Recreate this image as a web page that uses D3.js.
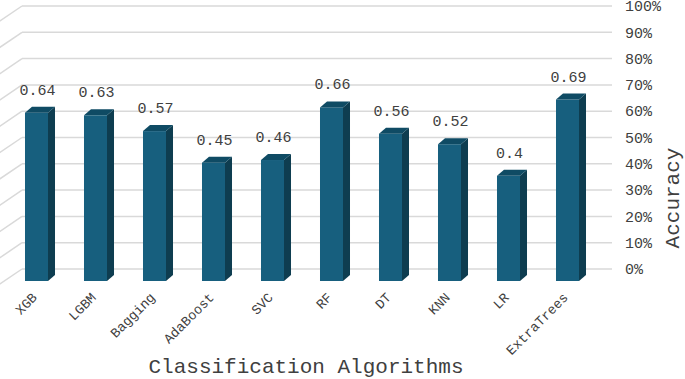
<!DOCTYPE html>
<html>
<head>
<meta charset="utf-8">
<script src="https://cdn.jsdelivr.net/npm/d3@7"></script>
<style>
  body { margin: 0; background: #fff; }
  text { font-family: "Liberation Mono", "Courier New", monospace; fill: #404040; }
</style>
</head>
<body>
<div id="chart"></div>
<script>
const algorithms = ["XGB", "LGBM", "Bagging", "AdaBoost", "SVC", "RF", "DT", "KNN", "LR", "ExtraTrees"];
const accuracy = [0.64, 0.63, 0.57, 0.45, 0.46, 0.66, 0.56, 0.52, 0.4, 0.69];
const tickValues = [0, 0.1, 0.2, 0.3, 0.4, 0.5, 0.6, 0.7, 0.8, 0.9, 1];

const width = 685, height = 379;
const wallLeft = 22, wallRight = 612;
const frontDy = 12;          // floor depth: front of bars sits lower than back wall
const barDx = 7, barDy = 6;  // bar depth

const svg = d3.select("#chart").append("svg")
    .attr("width", width)
    .attr("height", height);

const x = d3.scaleBand()
    .domain(algorithms)
    .range([7, 597])
    .paddingInner(0.61)
    .paddingOuter(0.305);

const y = d3.scaleLinear()
    .domain([0, 1])
    .range([269, 6]);

// back wall gridlines
svg.append("g")
    .selectAll("line")
    .data(tickValues)
    .join("line")
    .attr("x1", wallLeft)
    .attr("x2", wallRight)
    .attr("y1", d => y(d))
    .attr("y2", d => y(d))
    .attr("stroke", "#d9d9d9")
    .attr("stroke-width", 1.5);

// side wall gridlines (slanting down-left)
svg.append("g")
    .selectAll("line")
    .data(tickValues)
    .join("line")
    .attr("x1", wallLeft)
    .attr("x2", wallLeft - 40)
    .attr("y1", d => y(d))
    .attr("y2", d => y(d) + 40 * 0.68)
    .attr("stroke", "#d9d9d9")
    .attr("stroke-width", 1.5);

// bars
const bars = svg.append("g")
    .selectAll("g")
    .data(algorithms.map((a, i) => ({ name: a, value: accuracy[i] })))
    .join("g");

const bw = x.bandwidth();

bars.append("rect")
    .attr("x", d => x(d.name))
    .attr("y", d => y(d.value) + frontDy)
    .attr("width", bw)
    .attr("height", d => y(0) - y(d.value))
    .attr("fill", "#175f7e");

bars.append("path") // side face
    .attr("fill", "#0e3d50")
    .attr("d", d => {
        const x0 = x(d.name) + bw, top = y(d.value) + frontDy, bot = y(0) + frontDy;
        return `M${x0},${top} L${x0 + barDx},${top - barDy} L${x0 + barDx},${bot - barDy} L${x0},${bot} Z`;
    });

bars.append("path") // top face
    .attr("fill", "#0f4b64")
    .attr("d", d => {
        const x0 = x(d.name), top = y(d.value) + frontDy;
        return `M${x0},${top} L${x0 + barDx},${top - barDy} L${x0 + bw + barDx},${top - barDy} L${x0 + bw},${top} Z`;
    });

// value labels
bars.append("text")
    .attr("x", d => x(d.name) + bw / 2 + 1)
    .attr("y", d => y(d.value) + frontDy - 18)
    .attr("text-anchor", "middle")
    .style("font-size", "15px")
    .text(d => d.value);

// right axis tick labels
svg.append("g")
    .selectAll("text")
    .data(tickValues)
    .join("text")
    .attr("x", 625)
    .attr("y", d => y(d))
    .attr("dy", "0.35em")
    .style("font-size", "15px")
    .text(d => d3.format(".0%")(d));

// category labels
svg.append("g")
    .selectAll("text")
    .data(algorithms)
    .join("text")
    .attr("transform", d => `translate(${x(d) + bw / 2 - 2},${295}) rotate(-45)`)
    .attr("text-anchor", "end")
    .attr("dy", "0.35em")
    .style("font-size", "13.5px")
    .text(d => d);

// axis titles
svg.append("text")
    .attr("x", 306)
    .attr("y", 373)
    .attr("text-anchor", "middle")
    .style("font-size", "21px")
    .text("Classification Algorithms");

svg.append("text")
    .attr("transform", "translate(679,198) rotate(-90)")
    .attr("text-anchor", "middle")
    .style("font-size", "21px")
    .text("Accuracy");
</script>
</body>
</html>
